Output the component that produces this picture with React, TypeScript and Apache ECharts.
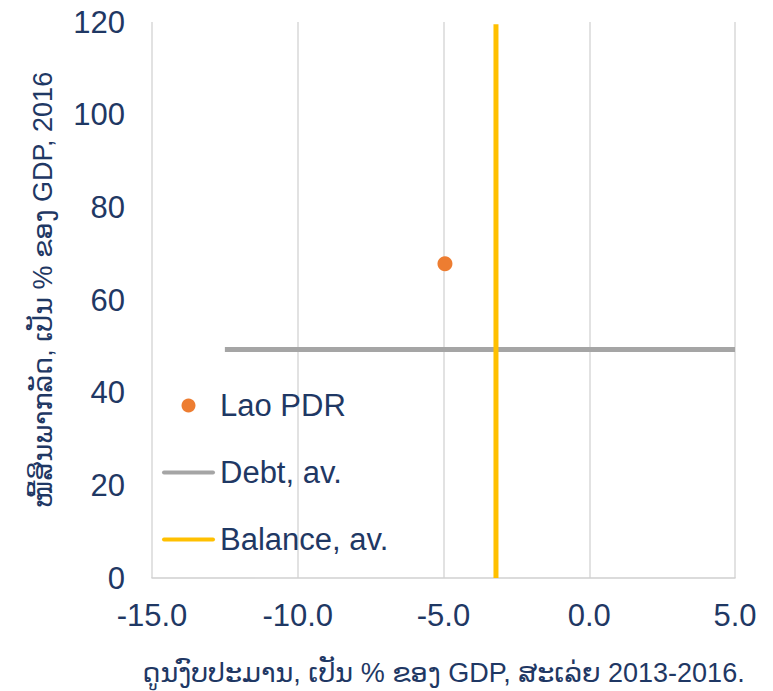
import React, { useEffect, useRef } from "react";
import * as echarts from "echarts";

const xTicks = [-15, -10, -5, 0, 5];
const yTicks = [0, 20, 40, 60, 80, 100, 120];
const laoPoint = [[-4.95, 67.8]];
const debtAv = [[-12.5, 49.3], [5, 49.3]];
const balanceAv = [[-3.2, 0], [-3.2, 119.5]];
const seriesNames = ["Lao PDR", "Debt, av.", "Balance, av."];
const xTitle = "ດູນງົບປະມານ, ເປັນ % ຂອງ GDP, ສະເລ່ຍ 2013-2016.";
const yTitle = "ໜີ້ສິນພາກລັດ, ເປັນ % ຂອງ GDP, 2016";

const TXT = "#1f3864";
const FONT = "'Liberation Sans', Arial, 'DejaVu Sans', sans-serif";
const LINE_ICON = "path://M2,0H51A2,2,0,0,1,51,4H2A2,2,0,0,1,2,0Z";

export default function App() {
  const ref = useRef<HTMLDivElement>(null);
  useEffect(() => {
    if (!ref.current) return;
    const chart = echarts.init(ref.current, undefined, { renderer: "svg" });
    chart.setOption({
      animation: false,
      backgroundColor: "#ffffff",
      textStyle: { fontFamily: FONT },
      grid: { left: 152, right: 38, top: 22, bottom: 112, containLabel: false },
      legend: {
        orient: "vertical",
        left: 162,
        top: 390,
        padding: 0,
        itemWidth: 53,
        itemHeight: 14,
        itemGap: 36,
        symbolKeepAspect: true,
        data: [
          { name: seriesNames[0], icon: "circle" },
          { name: seriesNames[1], icon: LINE_ICON },
          { name: seriesNames[2], icon: LINE_ICON },
        ],
        textStyle: { fontSize: 31, color: TXT, fontFamily: FONT },
      },
      xAxis: {
        type: "value",
        min: xTicks[0],
        max: xTicks[xTicks.length - 1],
        interval: 5,
        name: xTitle,
        nameLocation: "middle",
        nameGap: 81,
        nameTextStyle: { fontSize: 27, color: TXT, fontFamily: FONT },
        axisLine: { show: true, lineStyle: { color: "#d0d0d0", width: 1.5 } },
        axisTick: { show: false },
        splitLine: { show: true, lineStyle: { color: "#d9d9d9", width: 1.5 } },
        axisLabel: {
          fontSize: 31,
          color: TXT,
          margin: 22,
          fontFamily: FONT,
          formatter: (v: number) => v.toFixed(1),
        },
      },
      yAxis: {
        type: "value",
        min: yTicks[0],
        max: yTicks[yTicks.length - 1],
        interval: 20,
        name: yTitle,
        nameLocation: "middle",
        nameRotate: 90,
        nameGap: 96,
        nameTextStyle: {
          fontSize: 27,
          color: TXT,
          fontFamily: FONT,
          padding: [0, 0, 0, 20],
        },
        axisLine: { show: false },
        axisTick: { show: false },
        splitLine: { show: false },
        axisLabel: { fontSize: 31, color: TXT, margin: 27, fontFamily: FONT },
      },
      series: [
        {
          name: seriesNames[1],
          type: "line",
          data: debtAv,
          symbol: "none",
          lineStyle: { color: "#a5a5a5", width: 5 },
          itemStyle: { color: "#a5a5a5" },
          z: 2,
        },
        {
          name: seriesNames[2],
          type: "line",
          data: balanceAv,
          symbol: "none",
          lineStyle: { color: "#ffc000", width: 5 },
          itemStyle: { color: "#ffc000" },
          z: 3,
        },
        {
          name: seriesNames[0],
          type: "scatter",
          data: laoPoint,
          symbolSize: 15,
          itemStyle: { color: "#ed7d31", opacity: 1 },
          z: 4,
        },
      ],
    });
    return () => chart.dispose();
  }, []);
  return (
    <div
      ref={ref}
      style={{ position: "fixed", left: 0, top: 0, width: 773, height: 691 }}
    />
  );
}
